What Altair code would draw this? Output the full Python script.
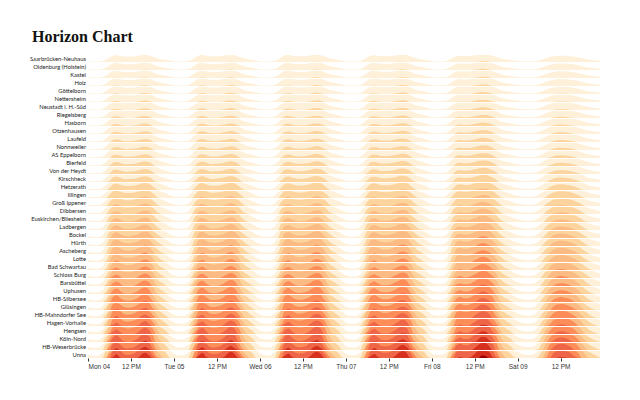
import altair as alt
import pandas as pd

stations = ["Saarbrücken-Neuhaus", "Oldenburg (Holstein)", "Kastel", "Holz", "Göttelborn",
            "Nettersheim", "Neustadt i. H.-Süd", "Riegelsberg", "Hasborn", "Otzenhausen",
            "Laufeld", "Nonnweiler", "AS Eppelborn", "Bierfeld", "Von der Heydt",
            "Kirschheck", "Hetzerath", "Illingen", "Groß Ippener", "Dibbersen",
            "Euskirchen/Bliesheim", "Ladbergen", "Bockel", "Hürth", "Ascheberg",
            "Lotte", "Bad Schwartau", "Schloss Burg", "Barsbüttel", "Uphusen",
            "HB-Silbersee", "Glüsingen", "HB-Mahndorfer See", "Hagen-Vorhalle", "Hengsen",
            "Köln-Nord", "HB-Weserbrücke", "Unna"]

# peak level of each station, in horizon bands
levels = [1.05, 1.1, 1.12, 1.15, 1.2, 1.25, 1.3, 1.35, 1.4, 1.45,
          1.5, 1.55, 1.6, 1.7, 1.8, 1.9, 2.1, 2.3, 2.45, 2.6,
          2.75, 2.9, 3.05, 3.2, 3.35, 3.5, 3.65, 3.8, 3.95, 4.1,
          4.3, 4.5, 4.7, 4.9, 5.1, 5.4, 5.7, 6.0]

# hourly traffic shape of each day (share of peak)
mon = [0.08, 0.06, 0.05, 0.06, 0.12, 0.32, 0.62, 0.86, 0.92, 0.84, 0.76, 0.74,
       0.75, 0.78, 0.84, 0.92, 0.96, 0.90, 0.74, 0.55, 0.42, 0.34, 0.26, 0.16]
tue = [0.10, 0.07, 0.06, 0.07, 0.13, 0.34, 0.66, 0.90, 0.95, 0.86, 0.78, 0.76,
       0.77, 0.80, 0.86, 0.94, 0.98, 0.92, 0.76, 0.57, 0.43, 0.35, 0.27, 0.17]
wed = [0.10, 0.07, 0.06, 0.07, 0.13, 0.34, 0.65, 0.89, 0.94, 0.86, 0.79, 0.77,
       0.78, 0.81, 0.87, 0.95, 0.98, 0.93, 0.77, 0.58, 0.44, 0.36, 0.28, 0.18]
thu = [0.10, 0.07, 0.06, 0.07, 0.13, 0.34, 0.65, 0.88, 0.93, 0.86, 0.80, 0.79,
       0.80, 0.84, 0.90, 0.97, 1.00, 0.95, 0.79, 0.60, 0.46, 0.38, 0.30, 0.19]
fri = [0.11, 0.08, 0.07, 0.08, 0.13, 0.32, 0.60, 0.82, 0.86, 0.82, 0.82, 0.86,
       0.93, 1.00, 1.06, 1.05, 0.98, 0.86, 0.70, 0.52, 0.40, 0.33, 0.27, 0.19]
sat = [0.14, 0.10, 0.08, 0.07, 0.08, 0.12, 0.22, 0.36, 0.52, 0.67, 0.78, 0.84,
       0.86, 0.85, 0.82, 0.77, 0.70, 0.61, 0.50, 0.40, 0.31, 0.26, 0.22, 0.17]
days = [mon, tue, wed, thu, fri, sat]
day_labels = ["Mon 04", "Tue 05", "Wed 06", "Thu 07", "Fri 08", "Sat 09"]

colors = ["#fef0d9", "#fdd49e", "#fdbb84", "#fc8d59", "#ef6548", "#d7301f", "#990000"]

ROW = 8      # row pitch in y units
BAND = 7     # band height in y units
n = len(stations)

recs = []
for r, (name, lv) in enumerate(zip(stations, levels)):
    for d, prof in enumerate(days):
        for h, p in enumerate(prof):
            recs.append({"station": name, "r": r, "t": d * 24 + h, "v": lv * p,
                         "base": (n - 1 - r) * ROW})
df = pd.DataFrame(recs)
lab = pd.DataFrame({"station": stations,
                    "yc": [(n - 1 - r) * ROW + BAND / 2 for r in range(n)]})

xscale = alt.Scale(domain=[0, 143], nice=False, zero=False)
yscale = alt.Scale(domain=[0, n * ROW], nice=False, zero=False)

label_expr = ("datum.value % 24 == 12 ? '12 PM' : "
              + " : ".join(f"datum.value == {i*24} ? '{l}'" for i, l in enumerate(day_labels))
              + " : ''")

xaxis = alt.Axis(values=list(range(0, 144, 12)), labelExpr=label_expr, domain=False,
                 grid=False, ticks=True, tickSize=3, tickColor="#333", labelFontSize=6.5,
                 labelFont="Liberation Sans", labelColor="#333", labelPadding=2, title=None)

layers = []
for i, c in enumerate(colors):
    lay = alt.Chart(df).transform_calculate(
        hi=f"datum.base + clamp(datum.v - {i}, 0, 1) * {BAND}",
    ).mark_area(color=c, interpolate="monotone").encode(
        x=alt.X("t:Q", scale=xscale, axis=xaxis),
        y=alt.Y("hi:Q", scale=yscale, axis=None),
        y2="base:Q",
        detail="station:N",
    )
    layers.append(lay)

labels = alt.Chart(lab).mark_text(align="right", baseline="middle", fontSize=5.8,
                                  font="Lato", color="#222").encode(
    x=alt.value(-2),
    y=alt.Y("yc:Q", scale=yscale, axis=None),
    text="station:N",
)

chart = alt.layer(*layers, labels).properties(
    width=512, height=n * ROW,
    autosize=alt.AutoSizeParams(type="none"),
    padding={"left": 88, "top": 54, "right": 40, "bottom": 42},
    title=alt.TitleParams("Horizon Chart", anchor="start", frame="group", dx=-56,
                          font="Liberation Serif", fontSize=16, fontWeight="bold",
                          color="#111", offset=9),
).configure_view(stroke=None)

chart.save("out.html", embed_options={"renderer": "svg", "actions": False})
